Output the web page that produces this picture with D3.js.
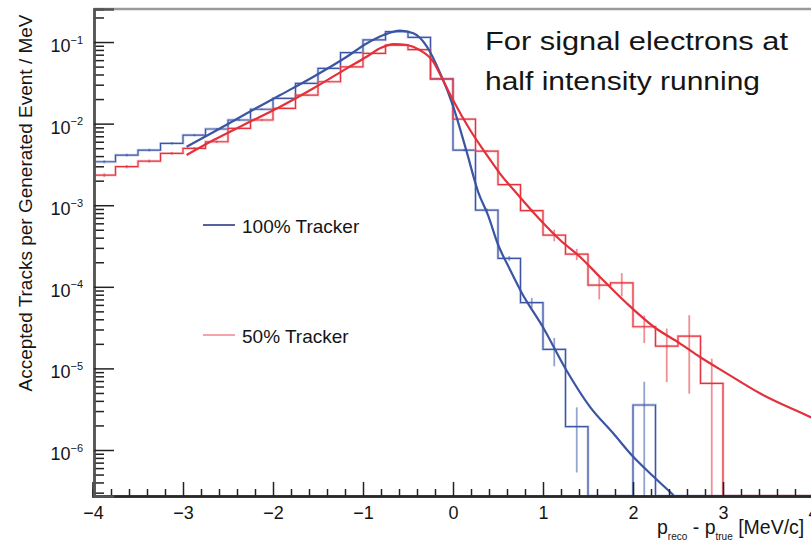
<!DOCTYPE html>
<html>
<head>
<meta charset="utf-8">
<script src="https://cdn.jsdelivr.net/npm/d3@7"></script>
<style>
  body { margin: 0; background: #fff; }
  text { font-family: "Liberation Sans", Arial, sans-serif; fill: #151515; }
</style>
</head>
<body>
<div id="chart"></div>
<script>
// histogram binning: 32 bins of 0.25 MeV/c from -4 to 4
const binLow = -4, binWidth = 0.25;

// 100% tracker histogram (tracks per generated event / MeV) and errors
const blueCounts = [3.41e-3, 4.12e-3, 4.74e-3, 5.74e-3, 7.24e-3, 8.59e-3, 1.107e-2, 1.50e-2,
  2.04e-2, 3.12e-2, 4.76e-2, 7.40e-2, 0.106, 0.134, 0.114, 0.0357,
  4.74e-3, 8.73e-4, 2.23e-4, 6.4e-5, 1.71e-5, 1.93e-6, 0, 0,
  3.56e-6, 0, 0, 0, 0, 0, 0, 0];
const blueErrors = [1.4e-4, 1.6e-4, 1.8e-4, 2.0e-4, 2.3e-4, 2.5e-4, 3.0e-4, 3.5e-4,
  4.0e-4, 5.0e-4, 6.0e-4, 8.0e-4, 1.0e-3, 1.1e-3, 1.0e-3, 6.0e-4,
  1.5e-4, 4.0e-5, 1.5e-5, 9.0e-6, 6.5e-6, 1.4e-6, 0, 0,
  3.3e-6, 0, 0, 0, 0, 0, 0, 0];

// 50% tracker histogram and errors
const redCounts = [2.34e-3, 2.97e-3, 3.48e-3, 4.32e-3, 4.98e-3, 6.00e-3, 8.75e-3, 1.107e-2,
  1.54e-2, 2.24e-2, 3.26e-2, 4.97e-2, 7.27e-2, 0.0919, 0.0809, 0.0352,
  1.138e-2, 4.61e-3, 1.79e-3, 8.57e-4, 4.31e-4, 2.52e-4, 1.05e-4, 1.12e-4,
  3.24e-5, 1.88e-5, 2.49e-5, 6.56e-6, 0, 0, 0, 0];
const redErrors = [1.2e-4, 1.4e-4, 1.5e-4, 1.7e-4, 1.8e-4, 2.0e-4, 2.5e-4, 2.8e-4,
  3.2e-4, 4.0e-4, 5.0e-4, 6.0e-4, 8.0e-4, 9.0e-4, 8.0e-4, 5.0e-4,
  2.5e-4, 1.2e-4, 6.0e-5, 4.0e-5, 7.0e-5, 4.0e-5, 3.5e-5, 3.5e-5,
  1.2e-5, 1.2e-5, 2.0e-5, 6.6e-6, 0, 0, 0, 0];

// fitted curves
const blueFitX = [-2.96, -2.66, -2.29, -1.92, -1.55, -1.18, -0.96, -0.77, -0.59, -0.44, -0.29, -0.14,
  0.0, 0.15, 0.28, 0.39, 0.50, 0.63, 0.76, 1.0, 1.26, 1.52, 1.78, 2.0, 2.23, 2.45];
const blueFitY = [5.2e-3, 7.9e-3, 1.34e-2, 2.24e-2, 3.76e-2, 6.6e-2, 9.6e-2, 0.122, 0.138, 0.128, 0.088, 0.041,
  0.0165, 4.6e-3, 1.45e-3, 7.5e-4, 3.3e-4, 1.65e-4, 8.6e-5, 3.2e-5, 9.5e-6, 3.4e-6, 1.6e-6, 8.3e-7, 4.7e-7, 2.8e-7];

const redFitX = [-2.96, -2.66, -2.29, -1.92, -1.55, -1.18, -0.96, -0.81, -0.66, -0.51, -0.37, -0.22, -0.14,
  0.0, 0.19, 0.36, 0.52, 0.74, 0.97, 1.19, 1.41, 1.63, 1.93, 2.23, 2.52, 2.74, 3.04, 3.41, 3.97, 4.0];
const redFitY = [4.12e-3, 6.29e-3, 1.01e-2, 1.61e-2, 2.71e-2, 4.76e-2, 6.61e-2, 8.37e-2, 0.0945, 0.0919, 0.0798, 0.0574, 0.0394,
  0.0195, 8.36e-3, 4.37e-3, 2.46e-3, 1.27e-3, 6.59e-4, 3.75e-4, 2.34e-4, 1.33e-4, 6.28e-5, 3.24e-5, 2.03e-5, 1.39e-5, 8.7e-6, 4.95e-6, 2.54e-6, 2.45e-6];

const xTicks = [-4, -3, -2, -1, 0, 1, 2, 3, 4];
const yTicks = [1e-6, 1e-5, 1e-4, 1e-3, 1e-2, 1e-1];
const legendLabels = ["100% Tracker", "50% Tracker"];
const noteLines = ["For signal electrons at", "half intensity running"];

const W = 811, H = 542;
const plotLeft = 94, plotTop = 9, plotBottom = 496;

const svg = d3.select("#chart")
  .append("svg")
    .attr("width", W)
    .attr("height", H);

const x = d3.scaleLinear().domain([-4, 4]).range([93, 813]);
const y = d3.scaleLog().domain([2.73e-7, 0.254]).range([plotBottom, plotTop]);
const yMin = y.domain()[0];

svg.append("clipPath").attr("id", "plotClip")
  .append("rect")
    .attr("x", plotLeft).attr("y", plotTop)
    .attr("width", W - plotLeft).attr("height", plotBottom - plotTop + 2);

const plot = svg.append("g").attr("clip-path", "url(#plotClip)");

function histPoints(counts) {
  const pts = counts.map((c, i) => [binLow + i * binWidth, Math.max(c, yMin)]);
  pts.push([binLow + counts.length * binWidth, Math.max(counts[counts.length - 1], yMin)]);
  return pts;
}

const stepLine = d3.line()
  .x(d => x(d[0]))
  .y(d => y(d[1]))
  .curve(d3.curveStepAfter);

const fitLine = d3.line()
  .x(d => x(d[0]))
  .y(d => y(d[1]))
  .curve(d3.curveMonotoneX);

function drawHist(layer, counts, errors, light, dark) {
  const pts = histPoints(counts);
  layer.append("path")
    .attr("d", stepLine(pts))
    .attr("fill", "none")
    .attr("stroke", light)
    .attr("stroke-width", 2.8)
    .attr("stroke-opacity", 0.5);
  layer.append("path")
    .attr("d", stepLine(pts))
    .attr("fill", "none")
    .attr("stroke", dark)
    .attr("stroke-width", 1.2);

  const bars = counts.map((c, i) => ({c: c, e: errors[i], xc: binLow + (i + 0.5) * binWidth}))
    .filter(d => d.c > 0 && d.e > 0);
  layer.selectAll(null)
    .data(bars)
    .enter()
    .append("line")
      .attr("x1", d => x(d.xc))
      .attr("x2", d => x(d.xc))
      .attr("y1", d => y(d.c + d.e))
      .attr("y2", d => y(Math.max(d.c - d.e, yMin)))
      .attr("stroke", dark)
      .attr("stroke-width", 1.8)
      .attr("stroke-opacity", 0.55);
}

// blue histogram sits under the axis line
drawHist(plot, blueCounts, blueErrors, "#9aaad8", "#3d55a5");

// frame
svg.append("line")
  .attr("x1", plotLeft).attr("x2", W)
  .attr("y1", plotTop).attr("y2", plotTop)
  .attr("stroke", "#9a9a9a").attr("stroke-width", 2.5);

// x axis: minor then major
const xMinor = d3.range(-4, 4.001, 0.2).filter(v => Math.abs(v - Math.round(v)) > 1e-6);
const xMinorAxis = svg.append("g")
  .attr("transform", `translate(0, ${plotBottom})`)
  .call(d3.axisBottom(x).tickValues(xMinor).tickSize(-7).tickFormat(""));
const xAxis = svg.append("g")
  .attr("transform", `translate(0, ${plotBottom})`)
  .call(d3.axisBottom(x).tickValues(xTicks).tickSize(-14).tickPadding(10).tickFormat(d3.format("d")));

// y axis: minor then major
const yMinor = [];
yTicks.concat([1]).forEach(t => {
  for (let k = 2; k <= 9; k++) {
    const v = k * t / 10;
    if (v >= yMin && v <= y.domain()[1]) yMinor.push(v);
  }
});
const yMinorAxis = svg.append("g")
  .attr("transform", `translate(${plotLeft}, 0)`)
  .call(d3.axisLeft(y).tickValues(yMinor).tickSize(-10).tickFormat(""));
const yAxis = svg.append("g")
  .attr("transform", `translate(${plotLeft}, 0)`)
  .call(d3.axisLeft(y).tickValues(yTicks).tickSize(-20).tickPadding(11).tickFormat(() => ""));

[xMinorAxis, xAxis, yMinorAxis, yAxis].forEach(g => {
  g.select(".domain").attr("stroke", "#2a2a2a").attr("stroke-width", 2.5);
  g.selectAll(".tick line").attr("stroke", "#222").attr("stroke-width", 1.5);
});
yAxis.select(".domain").attr("stroke", "#555");
yMinorAxis.select(".domain").attr("stroke", "#555");

xAxis.selectAll(".tick text")
  .attr("font-size", 18)
  .attr("font-family", "Liberation Sans, Arial, sans-serif")
  .attr("fill", "#151515");

yAxis.selectAll(".tick text")
  .attr("font-size", 18)
  .attr("font-family", "Liberation Sans, Arial, sans-serif")
  .attr("fill", "#151515")
  .attr("dy", "0.53em")
  .each(function(d) {
    const t = d3.select(this);
    t.append("tspan").text("10");
    t.append("tspan")
      .attr("font-size", 11)
      .attr("dy", -8.5)
      .text("\u2212" + Math.round(-Math.log10(d)));
  });

// red histogram drawn over the axis line
drawHist(plot, redCounts, redErrors, "#f29aa0", "#e5323c");

// fits
plot.append("path")
  .datum(blueFitX.map((v, i) => [v, blueFitY[i]]))
  .attr("d", fitLine)
  .attr("fill", "none")
  .attr("stroke", "#3a55a3")
  .attr("stroke-width", 2.2);
plot.append("path")
  .datum(redFitX.map((v, i) => [v, redFitY[i]]))
  .attr("d", fitLine)
  .attr("fill", "none")
  .attr("stroke", "#e3313b")
  .attr("stroke-width", 2.2);

// legend
const legendColors = ["#56629f", "#f3a5aa"];
const legendY = [225, 335];
legendLabels.forEach((lab, i) => {
  svg.append("line")
    .attr("x1", 203).attr("x2", 235)
    .attr("y1", legendY[i]).attr("y2", legendY[i])
    .attr("stroke", legendColors[i]).attr("stroke-width", 2);
  svg.append("text")
    .attr("x", 242).attr("y", legendY[i] + 8)
    .attr("font-size", 19)
    .text(lab);
});

// axis titles
svg.append("text")
  .attr("transform", "translate(32, 203) rotate(-90)")
  .attr("text-anchor", "middle")
  .attr("font-size", 19)
  .text("Accepted Tracks per Generated Event / MeV");

const xTitle = svg.append("text")
  .attr("x", 657).attr("y", 534)
  .attr("font-size", 19.5);
xTitle.append("tspan").text("p");
xTitle.append("tspan").attr("font-size", 10).attr("dy", 6).text("reco");
xTitle.append("tspan").attr("dy", -6).text(" - p");
xTitle.append("tspan").attr("font-size", 10).attr("dy", 6).text("true");
xTitle.append("tspan").attr("dy", -6).text(" [MeV/c]");

// annotation
const noteWidths = [303, 275];
noteLines.forEach((line, i) => {
  svg.append("text")
    .attr("x", 485).attr("y", 50 + i * 40)
    .attr("font-family", "'Open Sans', sans-serif")
    .attr("font-size", 26)
    .attr("fill", "#000")
    .attr("textLength", noteWidths[i])
    .attr("lengthAdjust", "spacingAndGlyphs")
    .text(line);
});
</script>
</body>
</html>
